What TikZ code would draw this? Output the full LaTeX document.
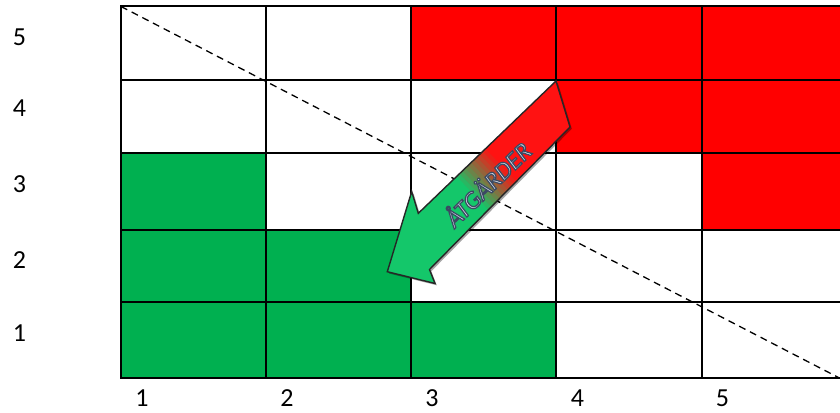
\documentclass[tikz,border=0pt]{standalone}
\usepackage{fontspec}
\setmainfont{Carlito}
\definecolor{cgreen}{HTML}{00B050}
\definecolor{cred}{HTML}{FF0000}
\definecolor{agreen}{HTML}{14C76A}
\definecolor{ared}{HTML}{FF1212}
\definecolor{tfill}{HTML}{DCE4F0}
\definecolor{aline}{HTML}{262626}
\newcommand{\outlinedtext}[1]{{\color{tfill}\special{pdf:literal 0.23 0.29 0.39 RG 1.2 w 2 Tr}#1\special{pdf:literal 0 Tr}}}
\tikzset{
  gridline/.style={line width=2pt, black, line cap=rect},
  diag/.style={line width=1.3pt, black, dash pattern=on 7pt off 5pt},
  axlabel/.style={font=\fontsize{26}{30}\selectfont, inner sep=0pt, anchor=center},
  arrtxt/.style={font=\fontsize{25}{28}\selectfont\itshape, inner sep=0pt, rotate=44, anchor=center},
}
\begin{document}
\begin{tikzpicture}[x=1pt,y=-1pt]
\useasboundingbox (0,0) rectangle (840,412);
% cells
\fill[cred] (411,6.5) rectangle (841,80);
\fill[cred] (556,80) rectangle (841,152.7);
\fill[cred] (702,152.7) rectangle (841,230);
\fill[cgreen] (121,152.7) rectangle (266,230);
\fill[cgreen] (121,230) rectangle (411,301.7);
\fill[cgreen] (121,301.7) rectangle (556,378.3);
% grid
\foreach \yy in {6.5,80,152.7,230,301.7,378.3}
  \draw[gridline] (121,\yy) -- (842,\yy);
\foreach \xx in {121,266,411,556,702}
  \draw[gridline] (\xx,6.5) -- (\xx,378.3);
% diagonal
\draw[diag] (121,6.5) -- (840,378.3);
% labels
\node[axlabel] (y5) at (19.5,37) {5};
\node[axlabel] (y4) at (19.5,108.5) {4};
\node[axlabel] (y3) at (19.5,184) {3};
\node[axlabel] (y2) at (19.5,260.5) {2};
\node[axlabel] (y1) at (19.5,333) {1};
\node[axlabel] (x1) at (142,398.5) {1};
\node[axlabel] (x2) at (287,398.5) {2};
\node[axlabel] (x3) at (432,398.5) {3};
\node[axlabel] (x4) at (577.5,398.5) {4};
\node[axlabel] (x5) at (722.5,398.5) {5};
% arrow
\coordinate (p1) at (556,81);
\coordinate (p2) at (570,127);
\coordinate (p3) at (429.5,269.5);
\coordinate (p4) at (435,283.5);
\coordinate (tip) at (387.3,271.7);
\coordinate (p6) at (411.7,191.5);
\coordinate (p7) at (418.3,213.3);
\fill[black, opacity=0.35] ([shift={(1.8,1.8)}]p1) -- ([shift={(1.8,1.8)}]p2) -- ([shift={(1.8,1.8)}]p3) -- ([shift={(1.8,1.8)}]p4) -- ([shift={(1.8,1.8)}]tip) -- ([shift={(1.8,1.8)}]p6) -- ([shift={(1.8,1.8)}]p7) -- cycle;
\begin{scope}
\clip (p1) -- (p2) -- (p3) -- (p4) -- (tip) -- (p6) -- (p7) -- cycle;
\foreach \i in {0,...,64} {
  \pgfmathsetmacro\sa{\i*4}
  \pgfmathsetmacro\sb{\i*4+4.8}
  \pgfmathtruncatemacro\r{min(100,max(0,(\sa/242.7-0.46)/0.18*100))}
  \fill[ared!\r!agreen]
    ({387.3+\sa*0.724+80*0.690},{271.7-\sa*0.690+80*0.724}) --
    ({387.3+\sb*0.724+80*0.690},{271.7-\sb*0.690+80*0.724}) --
    ({387.3+\sb*0.724-80*0.690},{271.7-\sb*0.690-80*0.724}) --
    ({387.3+\sa*0.724-80*0.690},{271.7-\sa*0.690-80*0.724}) -- cycle;
}
\end{scope}
\draw[aline, line width=1.4pt, line join=miter] (p1) -- (p2) -- (p3) -- (p4) -- (tip) -- (p6) -- (p7) -- cycle;
% arrow text
\node[arrtxt] (txt) at (486.7,183.3) {\outlinedtext{ÅTGÄRDER}};
\end{tikzpicture}
\end{document}
